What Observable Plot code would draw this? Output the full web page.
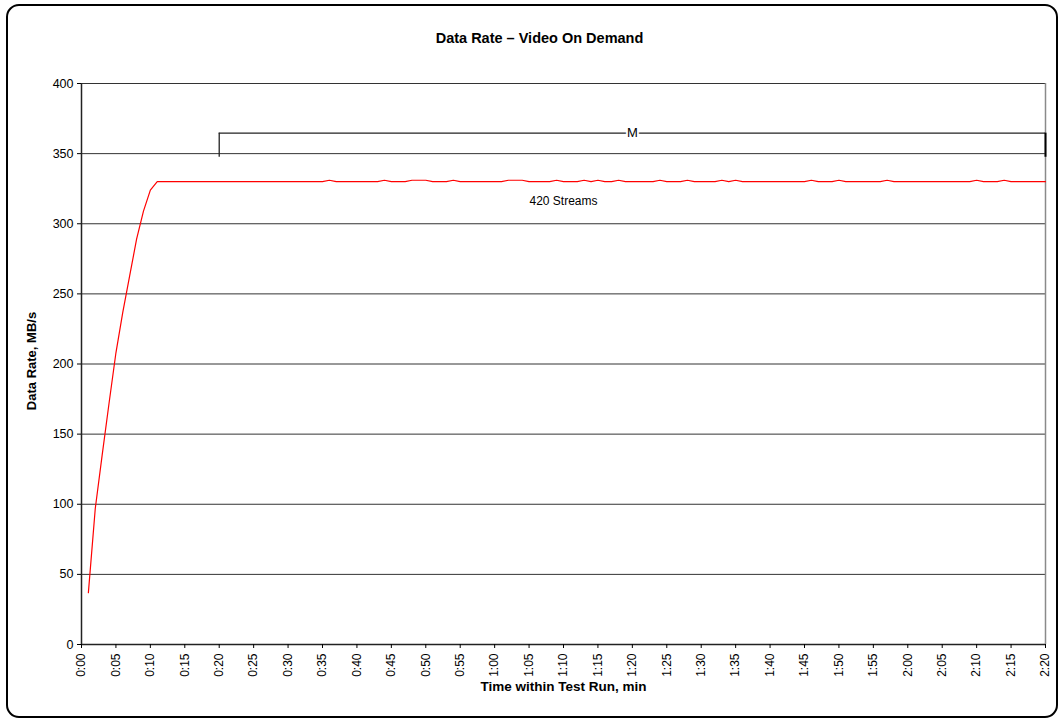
<!DOCTYPE html>
<html>
<head>
<meta charset="utf-8">
<script src="https://cdn.jsdelivr.net/npm/d3@7"></script>
<script src="https://cdn.jsdelivr.net/npm/@observablehq/plot@0.6"></script>
<style>
  html, body { margin: 0; padding: 0; background: #fff; }
  #wrap { position: relative; width: 1058px; height: 719px; overflow: hidden; }
  #border { position: absolute; left: 6px; top: 4px; width: 1052px; height: 714px; border: 2px solid #000; border-radius: 13px; box-sizing: border-box; pointer-events: none; }
  #chart { position: absolute; left: 0; top: 0; }
</style>
</head>
<body>
<div id="wrap"><div id="chart"></div><div id="border"></div></div>
<script>
// Minutes within the test run (0:00 .. 2:20)
const rampMinutes = [1, 2, 3, 4, 5, 6, 7, 8, 9, 10, 11];
const rampValues  = [37, 97, 135, 172, 208, 237, 263, 289, 309, 324, 330];
// Steady state: 330 MB/s, small bumps to 331 MB/s at these minutes
const steadyBase = 330;
const bumpValue = 331;
const bumpMinutes = [36, 44, 48, 49, 50, 54, 62, 63, 64, 69, 73, 75, 78, 84, 88, 93, 95, 106, 110, 117, 130, 134];
const lastMinute = 140;

const yTicks = [0, 50, 100, 150, 200, 250, 300, 350, 400];
const xTicks = d3.range(0, 141, 5);
const fmtTime = d => `${Math.floor(d / 60)}:${String(d % 60).padStart(2, "0")}`;

// Measurement-window bracket "M" from 0:20 to 2:20
const bracketStart = 20, bracketEnd = 140, bracketTop = 364.6, bracketBottom = 347.4;
const bracketLabel = "M";
const streamLabel = {minute: 70, value: 316, text: "420 Streams"};

const series = rampMinutes.map((m, i) => ({t: m, v: rampValues[i]}));
for (let m = 12; m <= lastMinute; m++) {
  series.push({t: m, v: bumpMinutes.includes(m) ? bumpValue : steadyBase});
}

const font = "Liberation Sans, Arial, Helvetica, sans-serif";

const plot = Plot.plot({
  width: 1058,
  height: 719,
  marginLeft: 81,
  marginRight: 13,
  marginTop: 83,
  marginBottom: 75,
  style: {fontFamily: font, fontSize: "12px", color: "#000", background: "transparent"},
  x: {domain: [0, 140], ticks: xTicks, tickFormat: fmtTime, tickRotate: -90, tickSize: 4, tickPadding: 5, label: null},
  y: {domain: [0, 400], ticks: yTicks, tickSize: 4, tickPadding: 4, label: null},
  marks: [
    Plot.ruleY(yTicks.filter(d => d > 0), {stroke: "#333", strokeWidth: 1}),
    Plot.ruleX([140], {stroke: "#8a8a8a", strokeWidth: 1.5}),
    Plot.ruleX([0], {stroke: "#222", strokeWidth: 1.5}),
    Plot.ruleY([0], {stroke: "#222", strokeWidth: 1.5}),
    Plot.axisX({ticks: xTicks, tickFormat: fmtTime, tickRotate: -90, tickSize: 4, tickPadding: 5, fontSize: 12, label: null}),
    Plot.axisY({ticks: yTicks, tickSize: 4, tickPadding: 4, fontSize: 12.5, label: null}),
    Plot.line(series, {x: "t", y: "v", stroke: "#ff0000", strokeWidth: 1.2}),
    // bracket
    Plot.ruleY([bracketTop], {x1: bracketStart, x2: bracketEnd, stroke: "#222", strokeWidth: 1.3}),
    Plot.ruleX([bracketStart], {y1: bracketBottom, y2: bracketTop, stroke: "#222", strokeWidth: 1.3}),
    Plot.ruleX([bracketEnd], {y1: bracketBottom, y2: bracketTop, stroke: "#000", strokeWidth: 2}),
    Plot.text([bracketLabel], {x: (bracketStart + bracketEnd) / 2, y: bracketTop, text: d => d, fontSize: 13, fill: "#000", stroke: "#fff", strokeWidth: 4, paintOrder: "stroke"}),
    Plot.text([streamLabel], {x: "minute", y: "value", text: "text", fontSize: 12, fill: "#000"}),
    // title and axis labels
    Plot.text(["Data Rate – Video On Demand"], {frameAnchor: "top", dx: -24, dy: -51, text: d => d, fontSize: 14.5, fontWeight: "bold", fill: "#000"}),
    Plot.text(["Time within Test Run, min"], {frameAnchor: "bottom", dy: 46, text: d => d, fontSize: 13.5, fontWeight: "bold", fill: "#000"}),
    Plot.text(["Data Rate, MB/s"], {frameAnchor: "left", textAnchor: "middle", dx: -50, dy: -3, rotate: -90, text: d => d, fontSize: 13, fontWeight: "bold", fill: "#000"})
  ]
});
document.getElementById("chart").appendChild(plot);
</script>
</body>
</html>
